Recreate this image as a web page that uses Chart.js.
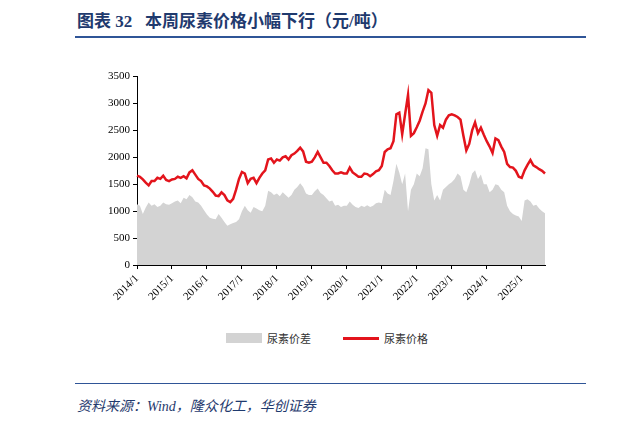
<!DOCTYPE html>
<html>
<head>
<meta charset="utf-8">
<script src="https://cdn.jsdelivr.net/npm/chart.js"></script>
<style>
  body { margin: 0; width: 620px; height: 423px; background: #fff; position: relative; overflow: hidden; font-family: "Liberation Serif", "Noto Sans CJK SC", serif; }
  #title { position: absolute; left: 77px; top: 7px; font-size: 17px; font-weight: bold; color: #1f3a6e; font-family: "Liberation Serif", "Noto Sans CJK SC"; }
  #topline { position: absolute; left: 75px; top: 36px; width: 511px; height: 2px; background: #2f5597; }
  #botline { position: absolute; left: 75px; top: 383px; width: 511px; height: 1px; background: #2f5597; }
  #src { position: absolute; left: 77px; top: 395px; font-size: 14px; font-style: italic; color: #1f3a6e; }
  #wrap { position: absolute; left: 105px; top: 67px; width: 450px; height: 239px; }
  .leg { position: absolute; top: 330px; font-size: 11px; color: #333; font-family: "Noto Sans CJK SC"; }
</style>
</head>
<body>
<div id="title">图表 32&nbsp;&nbsp;&nbsp;本周尿素价格小幅下行（元/吨）</div>
<div id="topline"></div>
<div id="wrap"><canvas id="c"></canvas></div>
<div style="position:absolute;left:226px;top:333px;width:36px;height:10px;background:#d3d3d3"></div>
<div class="leg" style="left:267px">尿素价差</div>
<div style="position:absolute;left:343px;top:337px;width:36px;height:3px;background:#e3141c"></div>
<div class="leg" style="left:384px">尿素价格</div>
<div id="botline"></div>
<div id="src">资料来源：Wind，隆众化工，华创证券</div>
<script>
const years = [2014, 2015, 2016, 2017, 2018, 2019, 2020, 2021, 2022, 2023, 2024, 2025];
const yTicks = [0, 500, 1000, 1500, 2000, 2500, 3000, 3500];
const price = [
  1660,1640,1590,1530,1480,1560,1560,1620,1600,1660,1580,1560,
  1590,1600,1640,1620,1650,1610,1720,1760,1680,1600,1560,1480,
  1460,1420,1360,1290,1280,1350,1300,1200,1170,1230,1400,1600,
  1730,1700,1520,1600,1620,1520,1620,1700,1760,1960,1980,1900,
  1960,1940,2000,2020,1960,2040,2070,2120,2180,2110,1920,1900,
  1920,2000,2100,2000,1900,1900,1840,1760,1700,1700,1720,1700,
  1700,1810,1720,1680,1640,1640,1700,1690,1650,1690,1740,1760,
  1840,2100,2150,2170,2300,2800,2830,2430,2800,3160,2400,2450,
  2560,2680,2850,3000,3250,3200,2600,2400,2600,2550,2700,2780,
  2800,2780,2750,2700,2400,2130,2250,2500,2650,2450,2550,2420,
  2300,2200,2080,2350,2320,2200,2100,1880,1820,1810,1750,1640,
  1620,1760,1860,1950,1850,1820,1780,1750,1700
];
const spread = [
  1130,1100,950,1070,1160,1100,1130,1080,1100,1160,1130,1120,
  1150,1180,1200,1150,1250,1220,1300,1260,1180,1160,1100,1020,
  940,880,860,850,950,880,800,730,760,780,800,850,
  1000,1100,1020,970,1080,1050,1020,1000,1100,1380,1350,1300,
  1330,1280,1350,1300,1250,1300,1400,1450,1520,1450,1330,1300,
  1300,1370,1420,1340,1300,1240,1180,1200,1100,1120,1080,1100,
  1100,1180,1120,1080,1060,1100,1080,1110,1080,1100,1150,1160,
  1150,1400,1330,1300,1560,1880,1720,1500,1700,1000,1400,1500,
  1700,1650,1800,2170,2150,1500,1200,1300,1200,1400,1450,1500,
  1540,1600,1700,1650,1400,1350,1500,1700,1760,1600,1680,1500,
  1500,1350,1400,1500,1480,1400,1350,1100,1000,950,920,900,
  820,1200,1220,1180,1100,1120,1050,1000,960
];
const labels = price.map((v, i) => years[Math.floor(i / 12)] + '/' + (i % 12 + 1));

new Chart(document.getElementById('c'), {
  type: 'line',
  data: {
    labels: labels,
    datasets: [
      { label: '尿素价格', data: price, borderColor: '#e3141c', borderWidth: 2.5, pointRadius: 0, fill: false, tension: 0 },
      { label: '尿素价差', data: spread, borderWidth: 0, borderColor: 'rgba(0,0,0,0)', backgroundColor: '#d3d3d3', pointRadius: 0, fill: 'origin' }
    ]
  },
  options: {
    responsive: true, maintainAspectRatio: false, animation: false,
    layout: { padding: { right: 10 } },
    plugins: { legend: { display: false }, tooltip: { enabled: false } },
    scales: {
      x: {
        offset: false,
        grid: { drawOnChartArea: false, color: '#000', tickLength: 4 },
        border: { color: '#000' },
        ticks: {
          autoSkip: false, minRotation: 45, maxRotation: 45, color: '#000',
          font: { family: 'Liberation Serif', size: 11 },
          callback: function (v, i) { return (i % 12 === 0) ? labels[i] : null; }
        }
      },
      y: {
        min: 0, max: 3500,
        afterBuildTicks: a => { a.ticks = yTicks.map(v => ({ value: v })); },
        grid: { drawOnChartArea: false, color: '#000', tickLength: 4 },
        border: { color: '#000' },
        ticks: { color: '#000', font: { family: 'Liberation Serif', size: 11 }, callback: v => String(v) }
      }
    }
  }
});
</script>
</body>
</html>
